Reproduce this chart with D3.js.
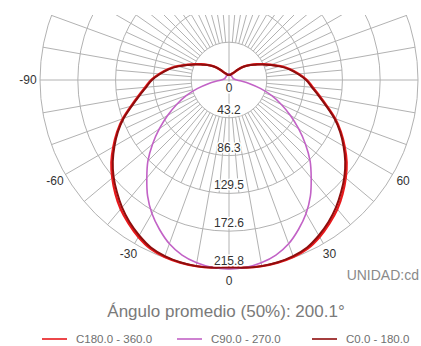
<!DOCTYPE html>
<html><head><meta charset="utf-8">
<script src="https://cdn.jsdelivr.net/npm/d3@7"></script>
<style>body{margin:0;background:#fff}svg{display:block}</style>
</head><body><svg id="c" width="421" height="346"></svg>
<script>
// ---- data ----
const gammas   = [0,5,10,15,20,25,30,35,40,45,50,55,60,65,70,75,80,85,90,95,100,105,110,115,120,125,130,135,140,145,150,155,160,165,170,175,180];
const c0_180   = [214,215,215.8,215.5,214,211,205,198,190,181,172,162,151,140,128,115,104,95,88,79,70,60,50,42,35,30,25,20,15,11,9,8,7,6,6,6,6];
const c180_360 = [214,215,215.8,215.8,215,212.5,207,200,192.5,183.5,174,164,152.5,141,129,116,105,96,89,80,71,61,51,43,36,30,25,20,15,11,9,8,7,6,6,6,6];
const c90_270  = [215.8,215,212,207,199,188,176,162,146,131,114,97,81,66,52,37,24,14,9,7,6,5,5,5,5,5,5,5,5,5,6,6,6,6,7,7,7];
const ringValues  = [0,43.2,86.3,129.5,172.6,215.8];
const angleLabels = [-90,-60,-30,0,30,60];
const seriesNames = ["C180.0 - 360.0","C90.0 - 270.0","C0.0 - 180.0"];
const seriesColors = ["#e8191c","#c262c6","#8e0d0d"];
const titleText = "Ángulo promedio (50%): 200.1°";
const unitText = "UNIDAD:cd";

// ---- layout ----
const W = 421, H = 346, cx = 229, cy = 80, R = 189;
const FONT = "Liberation Sans, Arial, Helvetica, sans-serif";
const svg = d3.select("#c");
const r = d3.scaleLinear().domain([0, 215.8]).range([0, R]);
const toRad = g => Math.PI - g * Math.PI / 180; // gamma measured from downward, +right

svg.append("defs").append("clipPath").attr("id","clip")
  .append("rect").attr("x",0).attr("y",15).attr("width",W).attr("height",H);

const plot = svg.append("g").attr("clip-path","url(#clip)")
  .append("g").attr("transform",`translate(${cx},${cy})`);

const gridColor = "#b2b2b2";
plot.selectAll("circle.ring").data(ringValues.slice(1)).join("circle")
  .attr("r", d => r(d)).attr("fill","none").attr("stroke",gridColor).attr("stroke-width",1);

const spokes = [];
for (let a = 0; a < 360; a += 5) {
  const g = a * Math.PI / 180;
  let r0, r1;
  if (a % 90 === 0) { r0 = 0; r1 = R; }
  else if (a % 10 === 0) { r0 = r(ringValues[1]); r1 = R; }
  else { r0 = r(ringValues[1]); r1 = r(ringValues[3]); }
  spokes.push({g, r0, r1});
}
plot.selectAll("line.spoke").data(spokes).join("line")
  .attr("x1", d => d.r0 * Math.sin(d.g)).attr("y1", d => -d.r0 * Math.cos(d.g))
  .attr("x2", d => d.r1 * Math.sin(d.g)).attr("y2", d => -d.r1 * Math.cos(d.g))
  .attr("stroke", gridColor).attr("stroke-width", 1);

function pts(vals) {
  const right = gammas.map((g,i) => [toRad(g), r(vals[i])]);
  const left = gammas.slice(1, -1).map((g,i) => [toRad(-g), r(vals[i+1])]).reverse();
  return right.concat(left);
}
const line = d3.lineRadial().angle(d => d[0]).radius(d => d[1]).curve(d3.curveCatmullRomClosed.alpha(0.5));
const allSeries = [c180_360, c90_270, c0_180];
const widths = [2.3, 1.6, 2];
plot.selectAll("path.curve").data(allSeries).join("path")
  .attr("d", d => line(pts(d)))
  .attr("fill","none")
  .attr("stroke", (d,i) => seriesColors[i])
  .attr("stroke-width", (d,i) => widths[i]);

const lab = svg.append("g").attr("font-family", FONT)
  .attr("font-size", 12).attr("fill","#333").attr("text-anchor","middle");
lab.selectAll("text.rv").data(ringValues).join("text")
  .attr("x", cx)
  .attr("y", (d,i) => i === 0 ? cy + 12 : cy + r(d) - 4)
  .attr("stroke","#fff").attr("stroke-width",3).attr("paint-order","stroke")
  .text(d => d === 0 ? "0" : d.toFixed(1));

const LR = 201;
lab.selectAll("text.al").data(angleLabels).join("text")
  .attr("x", d => cx + LR * Math.sin(d * Math.PI / 180))
  .attr("y", d => cy + LR * Math.cos(d * Math.PI / 180) + 4)
  .text(d => d);

svg.append("text").attr("x", 419).attr("y", 280).attr("text-anchor","end")
  .attr("font-family", FONT).attr("font-size",14)
  .attr("fill","#8a8a8a").text(unitText);

svg.append("text").attr("x", 226).attr("y", 317).attr("text-anchor","middle")
  .attr("font-family", FONT).attr("font-size",17)
  .attr("fill","#7a7a7a").text(titleText);

const legX = [42, 177, 312];
const leg = svg.append("g").selectAll("g").data(seriesNames).join("g")
  .attr("transform", (d,i) => `translate(${legX[i]},339)`);
leg.append("line").attr("x1",0).attr("x2",25).attr("y1",0).attr("y2",0)
  .attr("stroke",(d,i) => seriesColors[i]).attr("stroke-width",1.6);
leg.append("text").attr("x",34).attr("y",4)
  .attr("font-family", FONT).attr("font-size",11.5)
  .attr("fill","#707070").text(d => d);
</script>
</body></html>
